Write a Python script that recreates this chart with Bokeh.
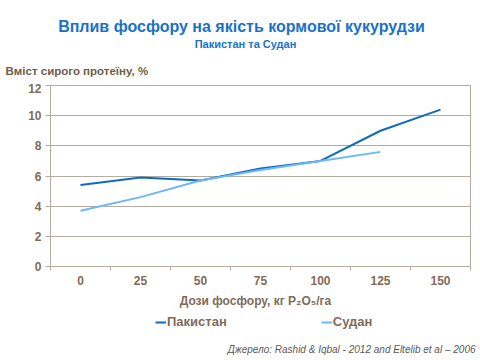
from bokeh.plotting import figure
from bokeh.layouts import column
from bokeh.models import Range1d, FixedTicker, Legend, LegendItem, Label
from bokeh.embed import file_html
from bokeh.resources import INLINE

doses = [0, 25, 50, 75, 100, 125, 150]
pakistan = [5.4, 5.9, 5.7, 6.5, 7.0, 9.0, 10.4]
sudan_doses = [0, 25, 50, 75, 100, 125]
sudan = [3.7, 4.6, 5.7, 6.4, 7.0, 7.6]
y_ticks = [0, 2, 4, 6, 8, 10, 12]
series_names = ["Пакистан", "Судан"]

title_text = "Вплив фосфору на якість кормової кукурудзи"
subtitle_text = "Пакистан та Судан"
ylabel_text = "Вміст  сирого протеїну,  %"
xlabel_text = "Дози фосфору, кг P₂O₅/га"
source_text = "Джерело: Rashid & Iqbal - 2012 and Eltelib et al – 2006"

FONT = "Liberation Sans"
BROWN = "#7F6B57"
BLUE_T = "#1A72C6"
GRID = "#B5AB9E"
C_PAK = "#0F6CBD"
C_SUD = "#6CB8F6"
W = 480
H0 = 83
H1 = 204
H2 = 360 - H0 - H1


def strip(h):
    f = figure(width=W, height=h, output_backend="svg", toolbar_location=None,
               x_range=Range1d(0, 1), y_range=Range1d(0, 1), title=None,
               min_border_left=0, min_border_right=0, min_border_top=0, min_border_bottom=0,
               x_axis_location=None, y_axis_location=None)
    f.grid.visible = False
    f.outline_line_color = None
    f.background_fill_color = "white"
    f.border_fill_color = "white"
    try:
        f.frame_align = False
    except Exception:
        pass
    return f


def lbl(f, x, y, text, size, color, style="bold", align="left"):
    f.add_layout(Label(x=x, y=y, x_units="screen", y_units="screen", text=text,
                       text_align=align, text_baseline="middle", text_font=FONT,
                       text_font_size=size, text_font_style=style, text_color=color))


# top strip: titles and y-axis title
p0 = strip(H0)
lbl(p0, 241, H0 - 26, title_text, "16px", BLUE_T, align="center")
lbl(p0, 245, H0 - 43, subtitle_text, "11px", BLUE_T, align="center")
lbl(p0, 5, H0 - 70, ylabel_text, "11.5px", "#6E5C4A")

# main chart
p = figure(width=W, height=H1, output_backend="svg", toolbar_location=None,
           x_range=Range1d(-12.5, 162.5), y_range=Range1d(0, 12),
           min_border_left=50, min_border_right=10, min_border_bottom=0,
           min_border_top=2, title=None)
p.background_fill_color = "white"
p.border_fill_color = "white"
p.outline_line_color = GRID

p.line(doses, pakistan, line_color=C_PAK, line_width=2)
p.line(sudan_doses, sudan, line_color=C_SUD, line_width=2)

minor = [d - 12.5 for d in doses] + [doses[-1] + 12.5]
p.xaxis.ticker = FixedTicker(ticks=doses, minor_ticks=minor)
p.xaxis.major_tick_line_color = None
p.xaxis.major_tick_out = 0
p.xaxis.major_tick_in = 0
p.xaxis.minor_tick_line_color = GRID
p.xaxis.minor_tick_out = 4
p.xaxis.minor_tick_in = 0
p.xaxis.axis_line_color = GRID
p.xaxis.major_label_text_font = FONT
p.xaxis.major_label_text_font_size = "12px"
p.xaxis.major_label_text_font_style = "bold"
p.xaxis.major_label_text_color = BROWN
p.xaxis.major_label_standoff = 5

p.yaxis.ticker = FixedTicker(ticks=y_ticks)
p.yaxis.minor_tick_line_color = None
p.yaxis.major_tick_line_color = GRID
p.yaxis.major_tick_out = 5
p.yaxis.major_tick_in = 0
p.yaxis.axis_line_color = GRID
p.yaxis.major_label_text_font = FONT
p.yaxis.major_label_text_font_size = "12px"
p.yaxis.major_label_text_font_style = "bold"
p.yaxis.major_label_text_color = BROWN
p.yaxis.major_label_standoff = 4

p.xgrid.grid_line_color = None
p.ygrid.grid_line_color = GRID
p.ygrid.ticker = FixedTicker(ticks=y_ticks)

# bottom strip: x-axis title, legend, source
p2 = strip(H2)
nan = float("nan")
k1 = p2.line([nan], [nan], line_color=C_PAK, line_width=2)
k2 = p2.line([nan], [nan], line_color=C_SUD, line_width=2)

lbl(p2, 255, H2 - 13, xlabel_text, "12px", BROWN, align="center")

legend = Legend(items=[LegendItem(label=series_names[0], renderers=[k1]),
                       LegendItem(label=series_names[1], renderers=[k2])],
                orientation="horizontal", location=(155, H2 - 35 - 7),
                label_text_font=FONT, label_text_font_size="13px",
                label_text_font_style="bold", label_text_color=BROWN,
                glyph_width=11, glyph_height=14, label_height=14,
                label_standoff=1, spacing=94,
                border_line_color=None, background_fill_alpha=0,
                padding=0, margin=0)
p2.add_layout(legend)

lbl(p2, 475, H2 - 62, source_text, "10px", "#595959", style="italic", align="right")

layout = column(p0, p, p2, spacing=0)
open("out.html", "w").write(file_html(layout, INLINE))
